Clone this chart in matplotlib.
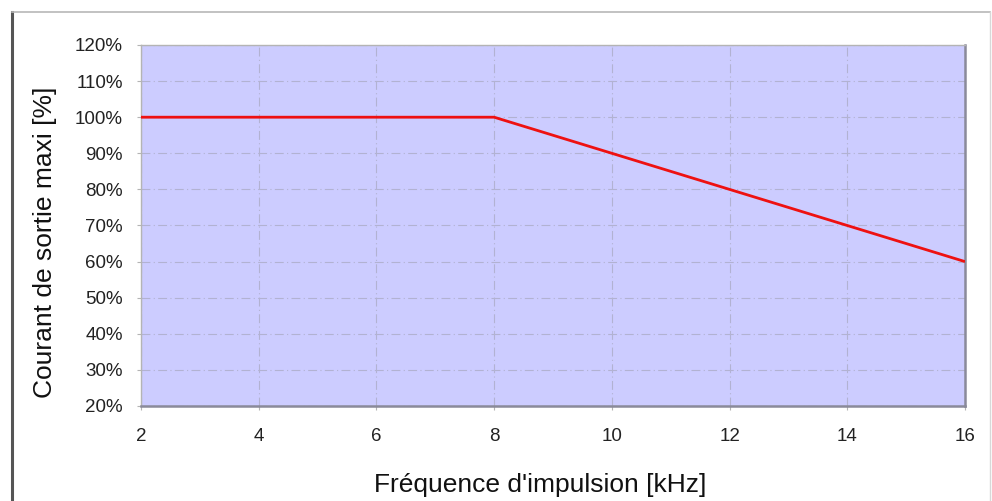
import matplotlib
matplotlib.use("Agg")
from matplotlib import pyplot as plt
from matplotlib.lines import Line2D
from matplotlib.ticker import FuncFormatter

matplotlib.rcParams.update({
    'font.family': ['Liberation Sans', 'DejaVu Sans'],
})

# derating curve: pulse frequency vs max output current
freq_khz = [2, 8, 16]
current_pct = [100, 100, 60]
x_ticks = [2, 4, 6, 8, 10, 12, 14, 16]
y_ticks = [20, 30, 40, 50, 60, 70, 80, 90, 100, 110, 120]

fig = plt.figure(figsize=(9.92, 5.01), dpi=100)
ax = fig.add_axes([141 / 992, 1 - 406 / 501, (965 - 141) / 992, (406 - 45) / 501])
ax.set_facecolor('#ccccff')

ax.plot(freq_khz, current_pct, color='#ee1111', linewidth=2, solid_capstyle='butt', zorder=3)

ax.set_xlim(2, 16)
ax.set_ylim(20, 120)
ax.set_xticks(x_ticks)
ax.set_yticks(y_ticks)
ax.yaxis.set_major_formatter(FuncFormatter(lambda v, p: '%d%%' % v))

ax.grid(True, color='#b2b2d2', linestyle=(0, (8, 3, 1, 3)), linewidth=0.8)
ax.set_axisbelow(True)

for side in ['left', 'top']:
    ax.spines[side].set_color('#b4b4b4')
    ax.spines[side].set_linewidth(1.0)
for side in ['right', 'bottom']:
    ax.spines[side].set_color('#8a8a9a')
    ax.spines[side].set_linewidth(1.8)

ax.tick_params(axis='both', length=3, width=0.8, color='#b4b4b4', labelsize=13.5,
               labelcolor='#222222', direction='out')
ax.tick_params(axis='x', pad=13)
ax.tick_params(axis='y', pad=10)

ax.set_xlabel("Fréquence d'impulsion [kHz]", fontsize=19, color='#111111')
ax.set_ylabel('Courant de sortie maxi [%]', fontsize=19, color='#111111')
# the titles sit a bit off-centre in the original
ax.xaxis.set_label_coords(0.484, -0.185)
ax.yaxis.set_label_coords(-0.102, 0.454)

# outer frame of the original picture
fig.add_artist(Line2D([12 / 992, 12 / 992], [0, 1 - 12 / 501], color='#555555', linewidth=2.2))
fig.add_artist(Line2D([12 / 992, 990 / 992], [1 - 12 / 501, 1 - 12 / 501], color='#b8b8b8', linewidth=1.2))
fig.add_artist(Line2D([990 / 992, 990 / 992], [0, 1 - 12 / 501], color='#d8d8d8', linewidth=1.0))

fig.savefig('out.png', dpi=100)
